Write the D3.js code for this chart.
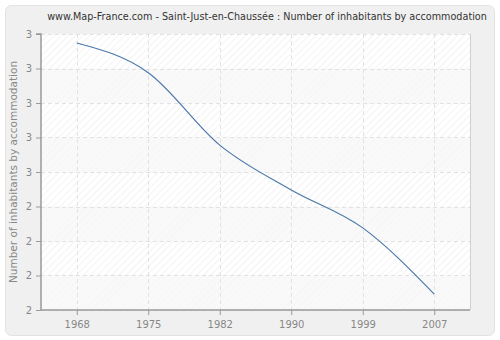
<!DOCTYPE html>
<html>
<head>
<meta charset="utf-8">
<script src="https://cdn.jsdelivr.net/npm/d3@7"></script>
<style>
  body { margin: 0; background: #fff; }
  svg { display: block; font-family: "DejaVu Sans", Verdana, sans-serif; }
</style>
</head>
<body>
<svg id="chart" width="500" height="340"></svg>
<script>
// data
var years = ["1968", "1975", "1982", "1990", "1999", "2007"];
var inhabitants = [2.874, 2.788, 2.578, 2.448, 2.338, 2.146];
var yTickValues = [2.1, 2.2, 2.3, 2.4, 2.5, 2.6, 2.7, 2.8, 2.9];
var yTickLabels = ["2", "2", "2", "2", "3", "3", "3", "3", "3"];

var title = "www.Map-France.com - Saint-Just-en-Chaussée : Number of inhabitants by accommodation";
var yTitle = "Number of inhabitants by accommodation";

var svg = d3.select("#chart");
var margin = { top: 34, right: 30, bottom: 30, left: 41 },
    width = 500 - margin.left - margin.right,
    height = 340 - margin.top - margin.bottom;

// outer frame
svg.append("rect")
    .attr("x", 5.5).attr("y", 5.5)
    .attr("width", 489).attr("height", 330)
    .attr("rx", 6)
    .attr("fill", "#f0f0f0")
    .attr("stroke", "#e2e2e2");

// hatch pattern
var defs = svg.append("defs");
var pat = defs.append("pattern")
    .attr("id", "hatch")
    .attr("patternUnits", "userSpaceOnUse")
    .attr("width", 5).attr("height", 5)
    .attr("patternTransform", "rotate(45)");
pat.append("rect").attr("width", 5).attr("height", 5).attr("fill", "#ffffff");
pat.append("line")
    .attr("x1", 0).attr("y1", 0).attr("x2", 0).attr("y2", 5)
    .attr("stroke", "#ececec").attr("stroke-width", 1.2);

var x = d3.scalePoint()
    .domain(years)
    .range([0, width])
    .padding(0.5);

var y = d3.scaleLinear()
    .domain([2.1, 2.9])
    .range([height, 0]);

var g = svg.append("g")
    .attr("transform", "translate(" + margin.left + "," + margin.top + ")");

g.append("rect")
    .attr("width", width).attr("height", height)
    .attr("fill", "url(#hatch)");

// alternate bands
var bands = d3.pairs(yTickValues).filter(function(d, i) { return i % 2 == 0; });
g.selectAll(".band")
    .data(bands)
    .enter()
    .append("rect")
    .attr("class", "band")
    .attr("x", 0)
    .attr("width", width)
    .attr("y", d => y(d[1]))
    .attr("height", d => y(d[0]) - y(d[1]))
    .attr("fill", "#f7f7f7")
    .attr("fill-opacity", 0.75);

// grid
g.selectAll(".hgrid")
    .data(yTickValues)
    .enter()
    .append("line")
    .attr("x1", 0).attr("x2", width)
    .attr("y1", d => Math.round(y(d)) + 0.5)
    .attr("y2", d => Math.round(y(d)) + 0.5)
    .attr("stroke", "#e2e2e2")
    .attr("stroke-dasharray", "4,3");

g.selectAll(".vgrid")
    .data(years)
    .enter()
    .append("line")
    .attr("y1", 0).attr("y2", height)
    .attr("x1", d => Math.round(x(d)) + 0.5)
    .attr("x2", d => Math.round(x(d)) + 0.5)
    .attr("stroke", "#e2e2e2")
    .attr("stroke-dasharray", "4,3");

// right edge
g.append("line")
    .attr("x1", width + 0.5).attr("x2", width + 0.5)
    .attr("y1", 0).attr("y2", height)
    .attr("stroke", "#d0d0d0");

// line
var line = d3.line()
    .x((d, i) => x(years[i]))
    .y(d => y(d))
    .curve(d3.curveMonotoneX);

g.append("path")
    .datum(inhabitants)
    .attr("d", line)
    .attr("fill", "none")
    .attr("stroke", "#4a78ab")
    .attr("stroke-width", 1.2);

// axes
var yAxis = d3.axisLeft(y)
    .tickValues(yTickValues)
    .tickFormat((d, i) => yTickLabels[i])
    .tickSize(5)
    .tickPadding(4);

var xAxis = d3.axisBottom(x)
    .tickSize(5)
    .tickPadding(6);

var yg = g.append("g").call(yAxis);
var xg = g.append("g").attr("transform", "translate(0," + height + ")").call(xAxis);

[yg, xg].forEach(function(a) {
    a.select(".domain").attr("stroke", "#999").attr("stroke-width", 1.5);
    a.selectAll(".tick line").attr("stroke", "#999");
    a.selectAll(".tick text")
        .attr("fill", "#888")
        .style("font-size", "10px")
        .style("font-family", "'DejaVu Sans', Verdana, sans-serif");
});
yg.select(".domain").attr("d", "M-5,0H0V" + height);
xg.select(".domain").attr("d", "M0,0H" + width);

// titles
var t = svg.append("text")
    .attr("x", 267)
    .attr("y", 20)
    .attr("text-anchor", "middle")
    .attr("fill", "#333")
    .style("font-size", "11px")
    .text(title);
var tw = t.node().getComputedTextLength();
if (tw > 440) t.style("font-size", (11 * 440 / tw) + "px");

svg.append("text")
    .attr("transform", "translate(17," + (margin.top + height / 2) + ") rotate(-90)")
    .attr("text-anchor", "middle")
    .attr("fill", "#888")
    .style("font-size", "10.5px")
    .text(yTitle);
</script>
</body>
</html>
